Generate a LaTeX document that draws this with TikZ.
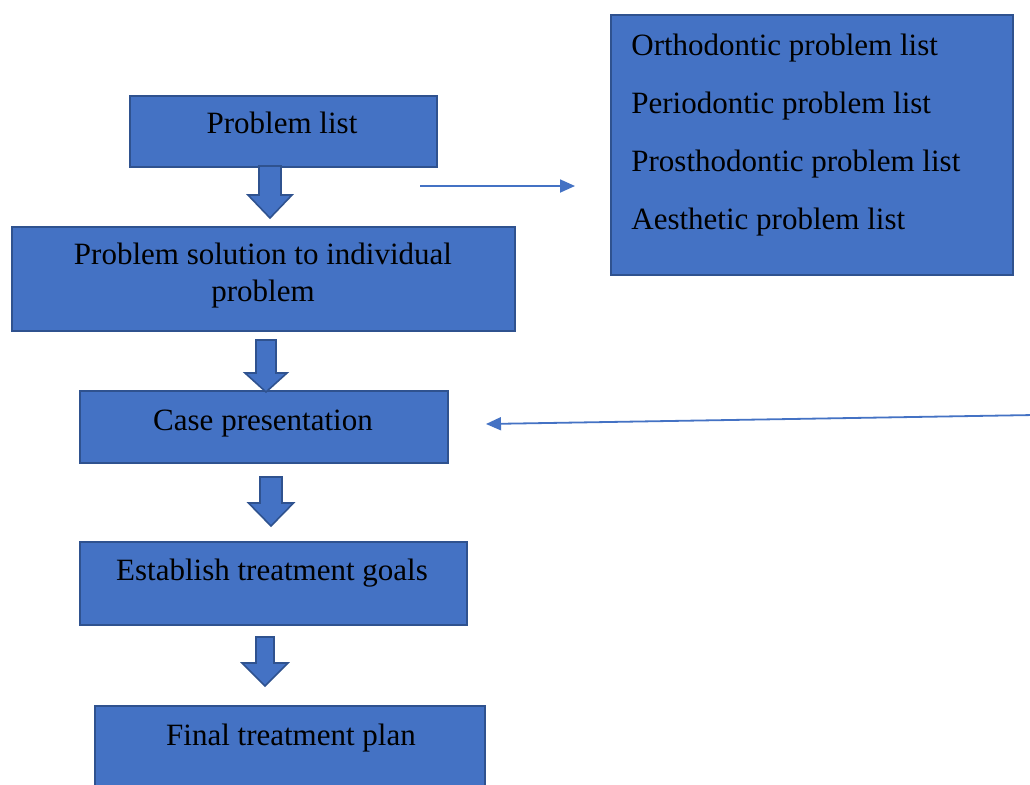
\documentclass[tikz,border=0pt]{standalone}
\usepackage{fontspec}
\setmainfont{Liberation Serif}
\usetikzlibrary{arrows.meta, calc, fit, positioning}
\definecolor{stepfill}{HTML}{4472C4}
\definecolor{stepline}{HTML}{2F528F}
\newcommand{\downblock}[6]{\filldraw[blockarrow] (#1-#4,#2) -- (#1+#4,#2) -- (#1+#4,#3-#6) -- (#1+#5,#3-#6) -- (#1,#3) -- (#1-#5,#3-#6) -- (#1-#4,#3-#6) -- cycle;}

\begin{document}
\begin{tikzpicture}[x=0.5pt,y=-0.5pt,
				stage/.style={draw=stepline,line width=1pt,fill=stepfill,inner sep=0pt},
				stagetext/.style={font=\fontsize{15.5}{18.5}\selectfont,inner sep=0pt,align=center},
				blockarrow/.style={fill=stepfill,draw=stepline,line width=0.8pt},
				link/.style={draw=stepfill,line width=0.9pt,-{Triangle[length=7.5pt,width=6.5pt]}}]
	\useasboundingbox (0,0) rectangle (1030,784);
	\fill[white] (0,0) rectangle (1030,784);

	\node[stage,fit={(130,96) (437,167)}] (list) {};
	\node[stage,fit={(12,227) (515,331)}] (solution) {};
	\node[stage,fit={(80,391) (448,463)}] (case) {};
	\node[stage,fit={(80,542) (467,625)}] (goals) {};
	\node[stage,fit={(95,706) (485,800)}] (plan) {};
	\node[stage,fit={(611,15) (1013,275)}] (lists) {};

	\node[stagetext,anchor=base] (listT) at (282,133) {Problem list};
	\node[stagetext] (solutionT) at (263,276) {Problem solution to individual\\problem};
	\node[stagetext,anchor=base] (caseT) at (263,430) {Case presentation};
	\node[stagetext,anchor=base] (goalsT) at (272,580) {Establish treatment goals};
	\node[stagetext,anchor=base] (planT) at (291,745) {Final treatment plan};
	\foreach \kind [count=\i] in {Orthodontic,Periodontic,Prosthodontic,Aesthetic}
		\node[stagetext,anchor=base west] (kind\i) at (631,{55+58.3*(\i-1)}) {\kind\ problem list};

	\downblock{270}{166}{218}{11}{22}{23}
	\downblock{266}{340}{392}{10}{21}{19}
	\downblock{271}{477}{526}{11}{22.5}{23}
	\downblock{265}{637}{686}{9}{23}{23}

	\coordinate (fromlist) at (420,186);
	\coordinate (tolists) at (575,186);
	\coordinate (fromedge) at (1034,415);
	\coordinate (tocase) at (486,424);
	\draw[link] (fromlist) -- (tolists);
	\draw[link] (fromedge) -- (tocase);
\end{tikzpicture}
\end{document}
